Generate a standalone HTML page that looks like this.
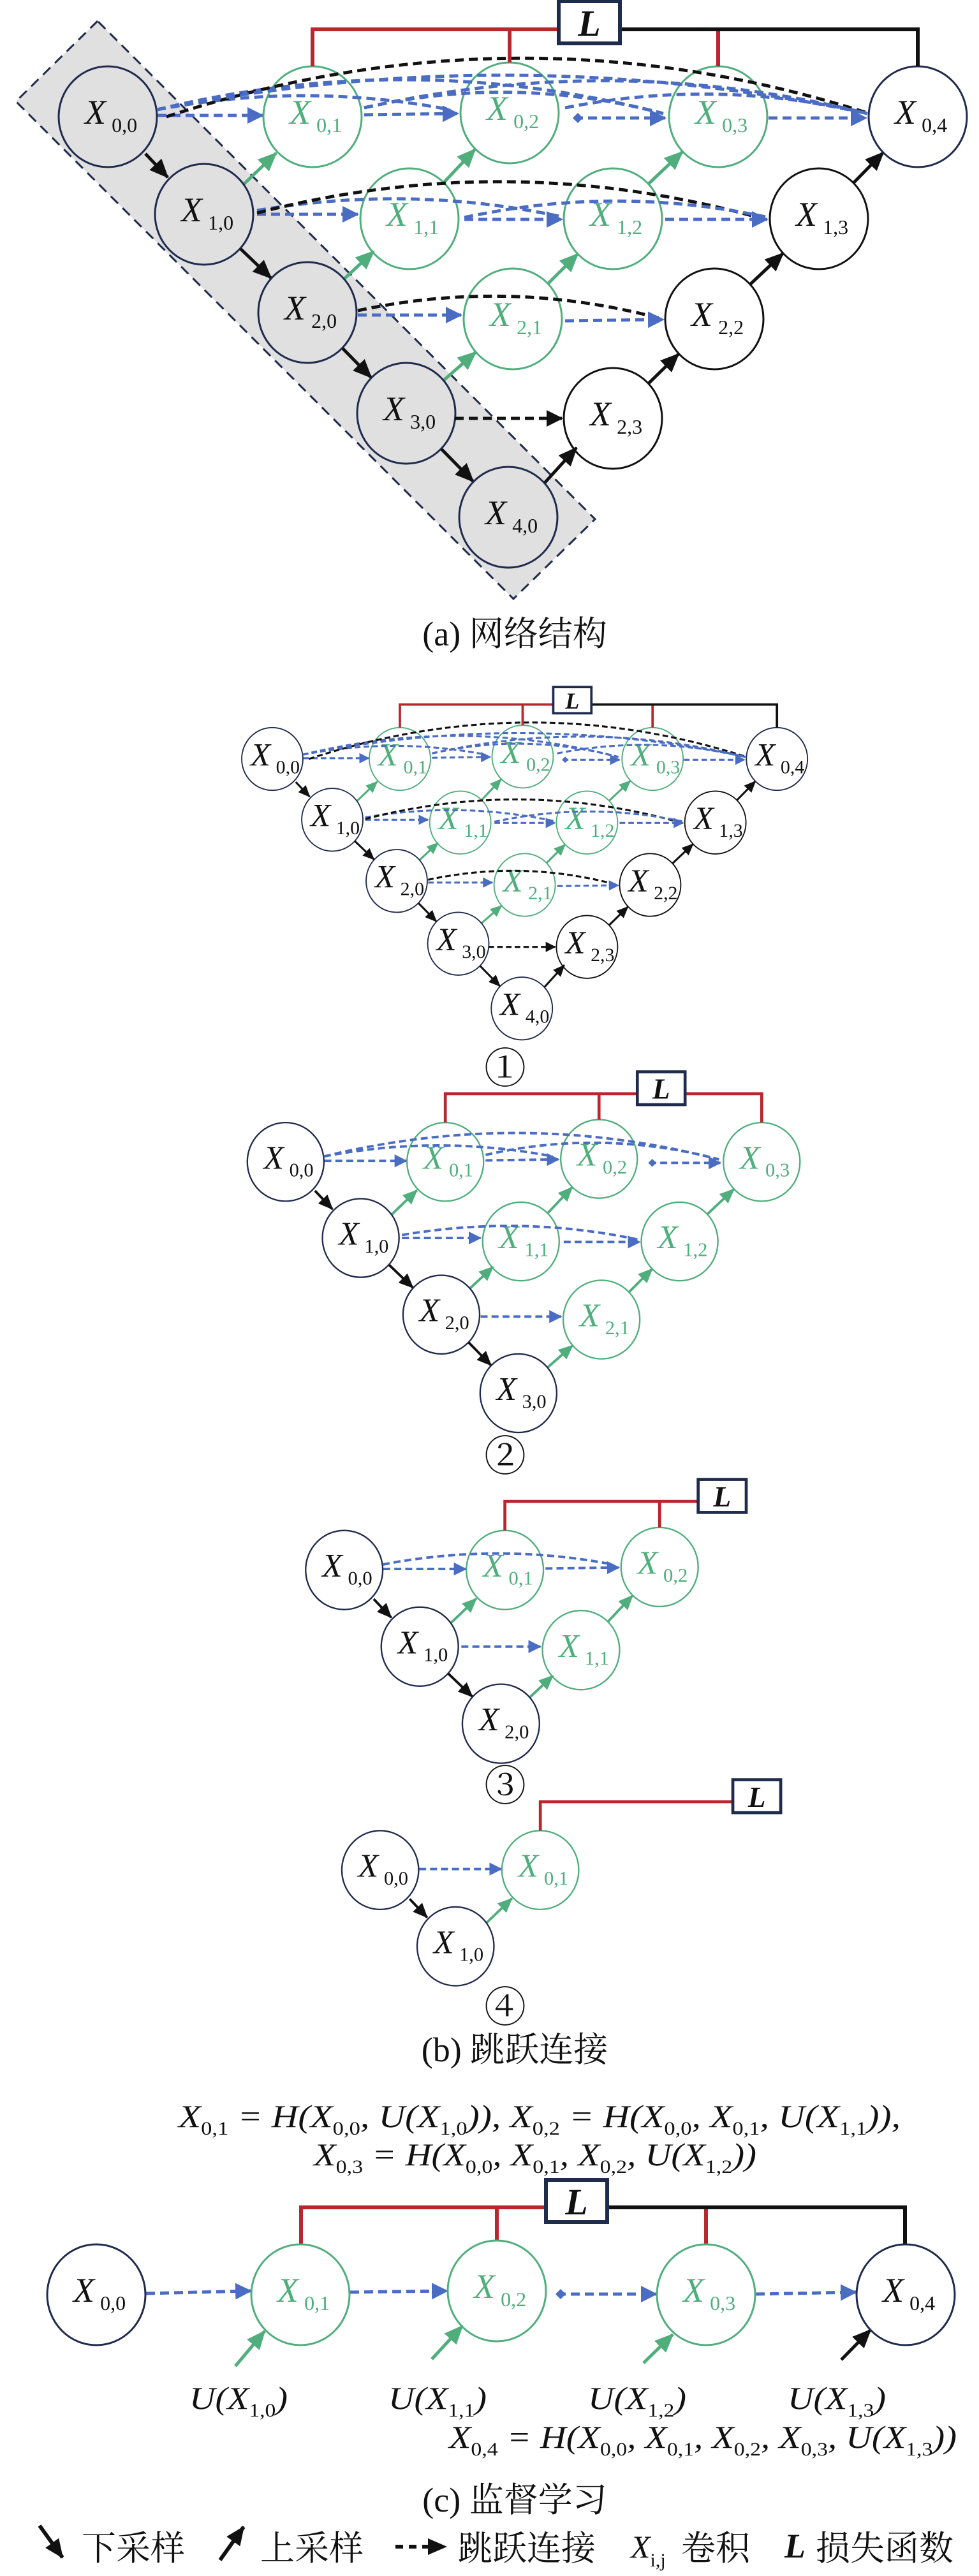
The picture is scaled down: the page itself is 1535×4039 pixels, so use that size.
<!DOCTYPE html>
<html><head><meta charset="utf-8"><style>
html,body{margin:0;padding:0;background:#fff}
svg{display:block}
.X{font-family:"Liberation Serif",serif;font-style:italic;font-size:var(--xs,54px)}
.s{font-family:"Liberation Serif",serif;font-size:var(--ss,32px)}
.n{fill:none;stroke:#1f2b4d;stroke-width:3}
.k{fill:none;stroke:#111;stroke-width:3}
.g{fill:none;stroke:#4fae7c;stroke-width:3}
.tn{fill:#111}.tg{fill:#4fae7c}
.bd{fill:none;stroke:#4a6cc2;stroke-width:5;stroke-dasharray:14 8}
.kd{fill:none;stroke:#111;stroke-width:5;stroke-dasharray:14 8}
.dn{stroke:#111;stroke-width:5;marker-end:url(#ak)}
.up{stroke:#4fae7c;stroke-width:5;marker-end:url(#ag)}
.cap{font-family:"Liberation Serif","Noto Serif CJK SC",serif;font-size:54px;fill:#111}
.num{font-family:"Liberation Serif","Noto Serif CJK SC",serif;font-size:66px;fill:#111}
.f{font-family:"Liberation Serif",serif;font-style:italic;font-size:50px;fill:#111}
.fs{font-style:normal;font-size:30px}
</style></head><body>
<svg width="1535" height="4039" viewBox="0 0 1535 4039" xmlns="http://www.w3.org/2000/svg">
<defs>
<marker id="ab" markerUnits="userSpaceOnUse" markerWidth="26" markerHeight="26" refX="24" refY="13" orient="auto"><path d="M0,0 L26,13 L0,26 z" fill="#4a6cc2"/></marker>
<marker id="akk" markerUnits="userSpaceOnUse" markerWidth="26" markerHeight="26" refX="24" refY="13" orient="auto"><path d="M0,0 L26,13 L0,26 z" fill="#111"/></marker>
<marker id="ak" markerUnits="userSpaceOnUse" markerWidth="30" markerHeight="26" refX="28" refY="13" orient="auto"><path d="M0,0 L30,13 L0,26 z" fill="#111"/></marker>
<marker id="ag" markerUnits="userSpaceOnUse" markerWidth="30" markerHeight="26" refX="28" refY="13" orient="auto"><path d="M0,0 L30,13 L0,26 z" fill="#4fae7c"/></marker>
<marker id="dm" markerUnits="userSpaceOnUse" markerWidth="16" markerHeight="16" refX="2" refY="8" orient="auto"><path d="M0,8 L8,0 L16,8 L8,16 z" fill="#4a6cc2"/></marker>

<g id="d1">
<line class="bd" x1="247" y1="181" x2="412" y2="181" marker-end="url(#ab)"/>
<line class="dn" x1="228" y1="241" x2="263" y2="278"/>
<line class="up" x1="382" y1="289" x2="433" y2="240"/>
<g transform="translate(169,183)"><ellipse class="n" rx="77" ry="79"/><text class="X tn" x="-0.667em" y="0.204em">X</text><text class="s tn" x="0.19em" y="0.75em">0,0</text></g>
<g transform="translate(320,336)"><ellipse class="n" rx="77" ry="79"/><text class="X tn" x="-0.667em" y="0.204em">X</text><text class="s tn" x="0.19em" y="0.75em">1,0</text></g>
<g transform="translate(490,183)"><ellipse class="g" rx="77" ry="79"/><text class="X tg" x="-0.667em" y="0.204em">X</text><text class="s tg" x="0.19em" y="0.75em">0,1</text></g>
</g>

<g id="d2">
<path class="bd" d="M246,172 Q476,128 706,172"/>
<line class="bd" x1="571" y1="180" x2="718" y2="178" marker-end="url(#ab)"/>
<line class="bd" x1="403" y1="336" x2="561" y2="336" marker-end="url(#ab)"/>
<line class="dn" x1="377" y1="390" x2="425" y2="436"/>
<line class="up" x1="540" y1="437" x2="586" y2="394"/>
<line class="up" x1="696" y1="286" x2="745" y2="234"/>
<g transform="translate(482,490)"><ellipse class="n" rx="77" ry="79"/><text class="X tn" x="-0.667em" y="0.204em">X</text><text class="s tn" x="0.19em" y="0.75em">2,0</text></g>
<g transform="translate(642,343)"><ellipse class="g" rx="77" ry="79"/><text class="X tg" x="-0.667em" y="0.204em">X</text><text class="s tg" x="0.19em" y="0.75em">1,1</text></g>
<g transform="translate(799,177)"><ellipse class="g" rx="77" ry="79"/><text class="X tg" x="-0.667em" y="0.204em">X</text><text class="s tg" x="0.19em" y="0.75em">0,2</text></g>
</g>

<g id="d3">
<path class="bd" d="M246,172 Q643,75 1040,178"/>
<path class="bd" d="M571,169 Q805,116 1040,178"/>
<path class="bd" d="M403,330 Q644,289 881,340"/>
<line class="bd" x1="900" y1="185" x2="1043" y2="185" marker-start="url(#dm)" marker-end="url(#ab)"/>
<line class="bd" x1="728" y1="344" x2="881" y2="344" marker-end="url(#ab)"/>
<line class="bd" x1="561" y1="494" x2="723" y2="494" marker-end="url(#ab)"/>
<line class="dn" x1="537" y1="546" x2="582" y2="592"/>
<line class="up" x1="696" y1="596" x2="746" y2="552"/>
<line class="up" x1="859" y1="445" x2="906" y2="398"/>
<line class="up" x1="1017" y1="288" x2="1070" y2="238"/>
<g transform="translate(637,648)"><ellipse class="n" rx="77" ry="79"/><text class="X tn" x="-0.667em" y="0.204em">X</text><text class="s tn" x="0.19em" y="0.75em">3,0</text></g>
<g transform="translate(804,500)"><ellipse class="g" rx="77" ry="79"/><text class="X tg" x="-0.667em" y="0.204em">X</text><text class="s tg" x="0.19em" y="0.75em">2,1</text></g>
<g transform="translate(961,343)"><ellipse class="g" rx="77" ry="79"/><text class="X tg" x="-0.667em" y="0.204em">X</text><text class="s tg" x="0.19em" y="0.75em">1,2</text></g>
<g transform="translate(1126,183)"><ellipse class="g" rx="77" ry="79"/><text class="X tg" x="-0.667em" y="0.204em">X</text><text class="s tg" x="0.19em" y="0.75em">0,3</text></g>
</g>

<g id="d4">
<path class="kd" d="M261,183 Q812,2 1363,178"/>
<path class="kd" d="M403,334 Q800,231 1200,344"/>
<path class="kd" d="M561,487 Q800,436 1038,500"/>
<path class="bd" d="M246,172 Q803,61 1360,178"/>
<path class="bd" d="M571,169 Q965,80 1360,178"/>
<path class="bd" d="M886,169 Q1123,122 1360,178"/>
<path class="bd" d="M728,341 Q964,290 1200,340"/>
<line class="bd" x1="1205" y1="185" x2="1358" y2="185" marker-end="url(#ab)"/>
<line class="bd" x1="1043" y1="344" x2="1203" y2="344" marker-end="url(#ab)"/>
<line class="bd" x1="886" y1="503" x2="1040" y2="501" marker-end="url(#ab)"/>
<line class="kd" x1="713" y1="656" x2="881" y2="656" marker-end="url(#akk)"/>
<line class="dn" x1="692" y1="704" x2="742" y2="755"/>
<line class="dn" x1="854" y1="757" x2="904" y2="702"/>
<line class="dn" x1="1017" y1="601" x2="1064" y2="555"/>
<line class="dn" x1="1176" y1="446" x2="1228" y2="397"/>
<line class="dn" x1="1338" y1="287" x2="1385" y2="239"/>
<g transform="translate(797,811)"><ellipse class="n" rx="77" ry="79"/><text class="X tn" x="-0.667em" y="0.204em">X</text><text class="s tn" x="0.19em" y="0.75em">4,0</text></g>
<g transform="translate(961,656)"><ellipse class="k" rx="77" ry="79"/><text class="X tn" x="-0.667em" y="0.204em">X</text><text class="s tn" x="0.19em" y="0.75em">2,3</text></g>
<g transform="translate(1120,500)"><ellipse class="k" rx="77" ry="79"/><text class="X tn" x="-0.667em" y="0.204em">X</text><text class="s tn" x="0.19em" y="0.75em">2,2</text></g>
<g transform="translate(1284,343)"><ellipse class="k" rx="77" ry="79"/><text class="X tn" x="-0.667em" y="0.204em">X</text><text class="s tn" x="0.19em" y="0.75em">1,3</text></g>
<g transform="translate(1439,183)"><ellipse class="n" rx="77" ry="79"/><text class="X tn" x="-0.667em" y="0.204em">X</text><text class="s tn" x="0.19em" y="0.75em">0,4</text></g>
</g>

<g id="lb"><rect x="876" y="2" width="96" height="66" fill="#fff" stroke="#1f2b4d" stroke-width="6"/><text x="924" y="56" text-anchor="middle" font-family="Liberation Serif,serif" font-style="italic" font-weight="bold" font-size="58" fill="#111">L</text></g>
<g id="topA" fill="none" stroke-width="6">
<path d="M490,104 V46 H876 M799,98 V46 M1126,46 V104" stroke="#b8262e"/>
<path d="M972,46 H1439 V104" stroke="#111"/>
</g>
</defs>

<!-- (a) -->
<polygon points="153,33 25,159 805,939 933,814" fill="#e0e0e0" stroke="#1f2b4d" stroke-width="3" stroke-dasharray="16 10"/>
<use href="#d1"/><use href="#d2"/><use href="#d3"/><use href="#d4"/>
<use href="#topA"/><use href="#lb"/>
<text class="cap" x="807" y="1012" text-anchor="middle">(a) 网络结构</text>

<!-- ① -->
<g transform="translate(321.7,1076) scale(0.623)" style="--xs:82px;--ss:48px">
<use href="#d1"/><use href="#d2"/><use href="#d3"/><use href="#d4"/>
<use href="#topA"/><use href="#lb"/>
</g>
<text class="num" x="792" y="1698" text-anchor="middle">①</text>

<!-- ② -->
<g transform="translate(316,1679) scale(0.78)" style="--xs:66px;--ss:39px">
<use href="#d1"/><use href="#d2"/><use href="#d3"/>
<path d="M490,104 V46 H1126 V104 M799,98 V46" fill="none" stroke="#b8262e" stroke-width="6"/>
<use href="#lb"/>
</g>
<text class="num" x="792" y="2306" text-anchor="middle">②</text>

<!-- ③ -->
<g transform="translate(407,2318) scale(0.785)" style="--xs:66px;--ss:39px">
<use href="#d1"/><use href="#d2"/>
<path d="M490,104 V46 H876 M799,98 V46" fill="none" stroke="#b8262e" stroke-width="6"/>
<use href="#lb"/>
</g>
<text class="num" x="792" y="2823" text-anchor="middle">③</text>

<!-- ④ -->
<g transform="translate(464,2789) scale(0.782)" style="--xs:66px;--ss:39px">
<use href="#d1"/>
<path d="M490,104 V46 H876" fill="none" stroke="#b8262e" stroke-width="6"/>
<use href="#lb"/>
</g>
<text class="num" x="792" y="3170" text-anchor="middle">④</text>
<text class="cap" x="807" y="3232" text-anchor="middle">(b) 跳跃连接</text>

<!-- (c) -->
<text class="f" x="280" y="3335" textLength="1132" lengthAdjust="spacingAndGlyphs">X<tspan class="fs" dy="12">0,1</tspan><tspan dy="-12"> = H(X</tspan><tspan class="fs" dy="12">0,0</tspan><tspan dy="-12">, U(X</tspan><tspan class="fs" dy="12">1,0</tspan><tspan dy="-12">)), X</tspan><tspan class="fs" dy="12">0,2</tspan><tspan dy="-12"> = H(X</tspan><tspan class="fs" dy="12">0,0</tspan><tspan dy="-12">, X</tspan><tspan class="fs" dy="12">0,1</tspan><tspan dy="-12">, U(X</tspan><tspan class="fs" dy="12">1,1</tspan><tspan dy="-12">)),</tspan></text>
<text class="f" x="492" y="3395" textLength="694" lengthAdjust="spacingAndGlyphs">X<tspan class="fs" dy="12">0,3</tspan><tspan dy="-12"> = H(X</tspan><tspan class="fs" dy="12">0,0</tspan><tspan dy="-12">, X</tspan><tspan class="fs" dy="12">0,1</tspan><tspan dy="-12">, X</tspan><tspan class="fs" dy="12">0,2</tspan><tspan dy="-12">, U(X</tspan><tspan class="fs" dy="12">1,2</tspan><tspan dy="-12">))</tspan></text>

<g fill="none" stroke-width="6">
<path d="M472,3518 V3461 H856 M779,3512 V3461 M1107,3461 V3518" stroke="#b8262e"/>
<path d="M952,3461 H1419 V3518" stroke="#111"/>
</g>
<rect x="856" y="3418" width="96" height="66" fill="#fff" stroke="#1f2b4d" stroke-width="6"/>
<text x="904" y="3472" text-anchor="middle" font-family="Liberation Serif,serif" font-style="italic" font-weight="bold" font-size="58" fill="#111">L</text>

<line class="bd" x1="229" y1="3596" x2="393" y2="3592" marker-end="url(#ab)"/>
<line class="bd" x1="549" y1="3594" x2="701" y2="3592" marker-end="url(#ab)"/>
<line class="bd" x1="873" y1="3597" x2="1029" y2="3597" marker-start="url(#dm)" marker-end="url(#ab)"/>
<line class="bd" x1="1185" y1="3597" x2="1342" y2="3594" marker-end="url(#ab)"/>
<line class="up" x1="369" y1="3710" x2="415" y2="3655"/>
<line class="up" x1="677" y1="3699" x2="725" y2="3647"/>
<line class="up" x1="1009" y1="3705" x2="1055" y2="3660"/>
<line class="dn" x1="1319" y1="3700" x2="1365" y2="3653"/>
<g transform="translate(151,3598)"><ellipse class="n" rx="77" ry="79"/><text class="X tn" x="-0.667em" y="0.204em">X</text><text class="s tn" x="0.19em" y="0.75em">0,0</text></g>
<g transform="translate(471,3598)"><ellipse class="g" rx="77" ry="79"/><text class="X tg" x="-0.667em" y="0.204em">X</text><text class="s tg" x="0.19em" y="0.75em">0,1</text></g>
<g transform="translate(779,3592)"><ellipse class="g" rx="77" ry="79"/><text class="X tg" x="-0.667em" y="0.204em">X</text><text class="s tg" x="0.19em" y="0.75em">0,2</text></g>
<g transform="translate(1107,3598)"><ellipse class="g" rx="77" ry="79"/><text class="X tg" x="-0.667em" y="0.204em">X</text><text class="s tg" x="0.19em" y="0.75em">0,3</text></g>
<g transform="translate(1420,3598)"><ellipse class="n" rx="77" ry="79"/><text class="X tn" x="-0.667em" y="0.204em">X</text><text class="s tn" x="0.19em" y="0.75em">0,4</text></g>

<text class="f" x="297" y="3777" textLength="154" lengthAdjust="spacingAndGlyphs">U(X<tspan class="fs" dy="12">1,0</tspan><tspan dy="-12">)</tspan></text>
<text class="f" x="609" y="3777" textLength="154" lengthAdjust="spacingAndGlyphs">U(X<tspan class="fs" dy="12">1,1</tspan><tspan dy="-12">)</tspan></text>
<text class="f" x="922" y="3777" textLength="154" lengthAdjust="spacingAndGlyphs">U(X<tspan class="fs" dy="12">1,2</tspan><tspan dy="-12">)</tspan></text>
<text class="f" x="1235" y="3777" textLength="154" lengthAdjust="spacingAndGlyphs">U(X<tspan class="fs" dy="12">1,3</tspan><tspan dy="-12">)</tspan></text>
<text class="f" x="704" y="3838" textLength="796" lengthAdjust="spacingAndGlyphs">X<tspan class="fs" dy="12">0,4</tspan><tspan dy="-12"> = H(X</tspan><tspan class="fs" dy="12">0,0</tspan><tspan dy="-12">, X</tspan><tspan class="fs" dy="12">0,1</tspan><tspan dy="-12">, X</tspan><tspan class="fs" dy="12">0,2</tspan><tspan dy="-12">, X</tspan><tspan class="fs" dy="12">0,3</tspan><tspan dy="-12">, U(X</tspan><tspan class="fs" dy="12">1,3</tspan><tspan dy="-12">))</tspan></text>

<text class="cap" x="807" y="3938" text-anchor="middle">(c) 监督学习</text>

<!-- legend -->
<line x1="62" y1="3960" x2="98" y2="4010" stroke="#111" stroke-width="6" marker-end="url(#ak)"/>
<text class="cap" x="128" y="4014" font-size="50">下采样</text>
<line x1="345" y1="4014" x2="382" y2="3962" stroke="#111" stroke-width="6" marker-end="url(#ak)"/>
<text class="cap" x="408" y="4014" font-size="50">上采样</text>
<line x1="620" y1="3993" x2="699" y2="3993" stroke="#111" stroke-width="6" stroke-dasharray="12 9" marker-end="url(#ak)"/>
<text class="cap" x="718" y="4014" font-size="50">跳跃连接</text>
<text class="f" x="989" y="4010" font-size="54">X<tspan class="fs" dy="14">i,j</tspan></text>
<text class="cap" x="1068" y="4014" font-size="50">卷积</text>
<text x="1230" y="4010" font-family="Liberation Serif,serif" font-style="italic" font-weight="bold" font-size="54" fill="#111">L</text>
<text class="cap" x="1279" y="4014" font-size="50">损失函数</text>
</svg>
</body></html>
